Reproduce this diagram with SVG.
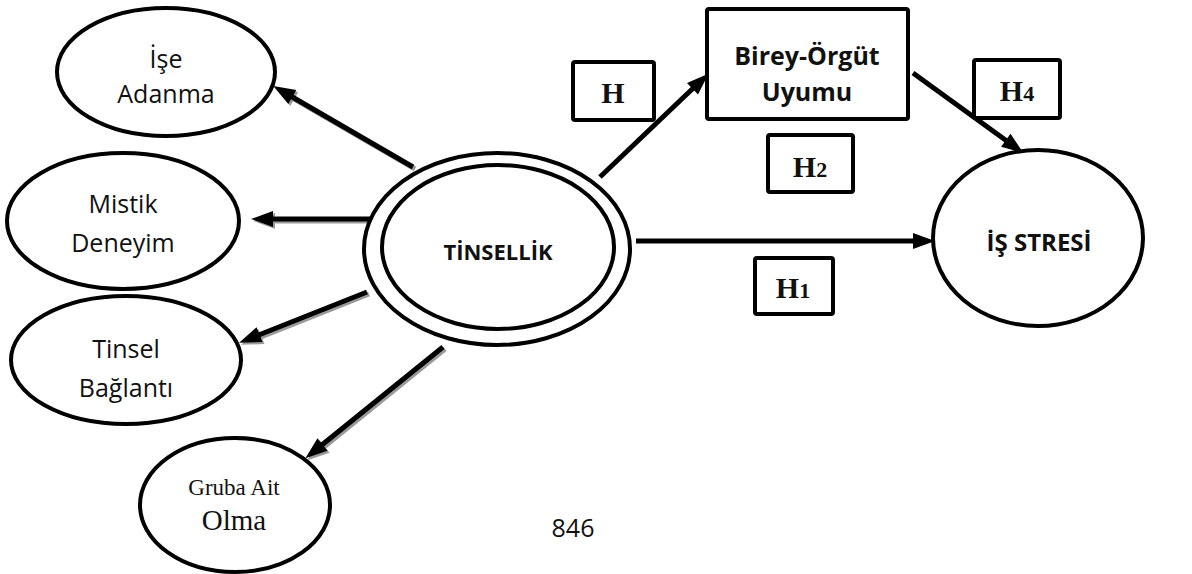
<svg xmlns="http://www.w3.org/2000/svg" width="1192" height="574" viewBox="0 0 1192 574">
  <style>
    .node { fill: #fff; stroke: #000; stroke-width: 4; }
    .box { fill: #fff; stroke: #000; stroke-width: 4; }
    .lbl { font-family: "Open Sans", "Noto Sans", sans-serif; font-size: 25px; fill: #111; text-anchor: middle; }
    .bold { font-family: "Open Sans", "Noto Sans", sans-serif; font-weight: bold; fill: #111; text-anchor: middle; }
    .serif { font-family: "Liberation Serif", "Times New Roman", serif; fill: #111; text-anchor: middle; }
    .hb { font-family: "Liberation Serif", "Times New Roman", serif; font-weight: bold; font-size: 30px; fill: #111; text-anchor: middle; }
    .edge { stroke: #000; stroke-width: 5; fill: none; marker-end: url(#head); }
    .shadow { stroke: #9a9a9a; stroke-width: 5; fill: none; marker-end: url(#head-shadow); }
  </style>
  <defs>
    <marker id="head" markerUnits="userSpaceOnUse" markerWidth="24" markerHeight="18" refX="8" refY="8" orient="auto" overflow="visible">
      <path d="M0,0 L22,8 L0,16 Z" fill="#000"/>
    </marker>
    <marker id="head-shadow" markerUnits="userSpaceOnUse" markerWidth="24" markerHeight="18" refX="8" refY="8" orient="auto" overflow="visible">
      <path d="M0,0 L22,8 L0,16 Z" fill="#9a9a9a"/>
    </marker>
  </defs>

  <!-- connectors -->
  <g id="connectors">
    <g transform="translate(2,2)">
      <line class="shadow" x1="413" y1="167" x2="285.4" y2="93"/>
      <line class="shadow" x1="380" y1="219" x2="265" y2="219"/>
      <line class="shadow" x1="367" y1="292" x2="252.1" y2="337.6"/>
      <line class="shadow" x1="443" y1="347" x2="316.3" y2="449.5"/>
    </g>
    <line class="edge" x1="413" y1="167" x2="285.4" y2="93"/>
    <line class="edge" x1="380" y1="219" x2="265" y2="219"/>
    <line class="edge" x1="367" y1="292" x2="252.1" y2="337.6"/>
    <line class="edge" x1="443" y1="347" x2="316.3" y2="449.5"/>
    <line class="edge" x1="600" y1="177" x2="698.3" y2="83.3"/>
    <line class="edge" x1="913" y1="73" x2="1012.3" y2="145"/>
    <line class="edge" x1="636" y1="241" x2="921" y2="241"/>
  </g>

  <g id="ise-adanma">
    <ellipse class="node" cx="166" cy="72" rx="109" ry="64"/>
    <text class="lbl" x="166" y="68">İşe</text>
    <text class="lbl" x="166" y="103">Adanma</text>
  </g>

  <g id="mistik-deneyim">
    <ellipse class="node" cx="123" cy="221" rx="116" ry="68"/>
    <text class="lbl" x="123" y="213">Mistik</text>
    <text class="lbl" x="123" y="252">Deneyim</text>
  </g>

  <g id="tinsel-baglanti">
    <ellipse class="node" cx="126" cy="360" rx="115" ry="64"/>
    <text class="lbl" x="126" y="358">Tinsel</text>
    <text class="lbl" x="126" y="397">Bağlantı</text>
  </g>

  <g id="gruba-ait-olma">
    <ellipse class="node" cx="235" cy="505" rx="95" ry="67"/>
    <text class="serif" x="234" y="495" font-size="23">Gruba Ait</text>
    <text class="serif" x="234" y="530" font-size="29">Olma</text>
  </g>

  <g id="tinsellik">
    <ellipse class="node" cx="497" cy="249" rx="133" ry="96"/>
    <ellipse class="node" cx="498" cy="247" rx="116" ry="82"/>
    <text class="bold" x="498" y="260" font-size="22">TİNSELLİK</text>
  </g>

  <g id="birey-orgut-uyumu">
    <rect class="box" x="707" y="9" width="201" height="110" rx="2"/>
    <text class="bold" x="807" y="65" font-size="25">Birey-Örgüt</text>
    <text class="bold" x="807" y="101" font-size="25">Uyumu</text>
  </g>

  <g id="is-stresi">
    <ellipse class="node" cx="1038" cy="238" rx="105" ry="88"/>
    <text class="bold" x="1039" y="251" font-size="24">İŞ STRESİ</text>
  </g>

  <g id="label-h">
    <rect class="box" x="573" y="62" width="81" height="58" rx="2"/>
    <text class="hb" x="613" y="103">H</text>
  </g>

  <g id="label-h4">
    <rect class="box" x="974" y="60" width="86" height="58" rx="2"/>
    <text class="hb" x="1017" y="101">H<tspan font-size="22">4</tspan></text>
  </g>

  <g id="label-h2">
    <rect class="box" x="768" y="135" width="85" height="57" rx="2"/>
    <text class="hb" x="810" y="177">H<tspan font-size="22">2</tspan></text>
  </g>

  <g id="label-h1">
    <rect class="box" x="755" y="258" width="78" height="56" rx="2"/>
    <text class="hb" x="793" y="298">H<tspan font-size="22">1</tspan></text>
  </g>

  <text class="lbl" x="573" y="537" font-size="23">846</text>
</svg>
